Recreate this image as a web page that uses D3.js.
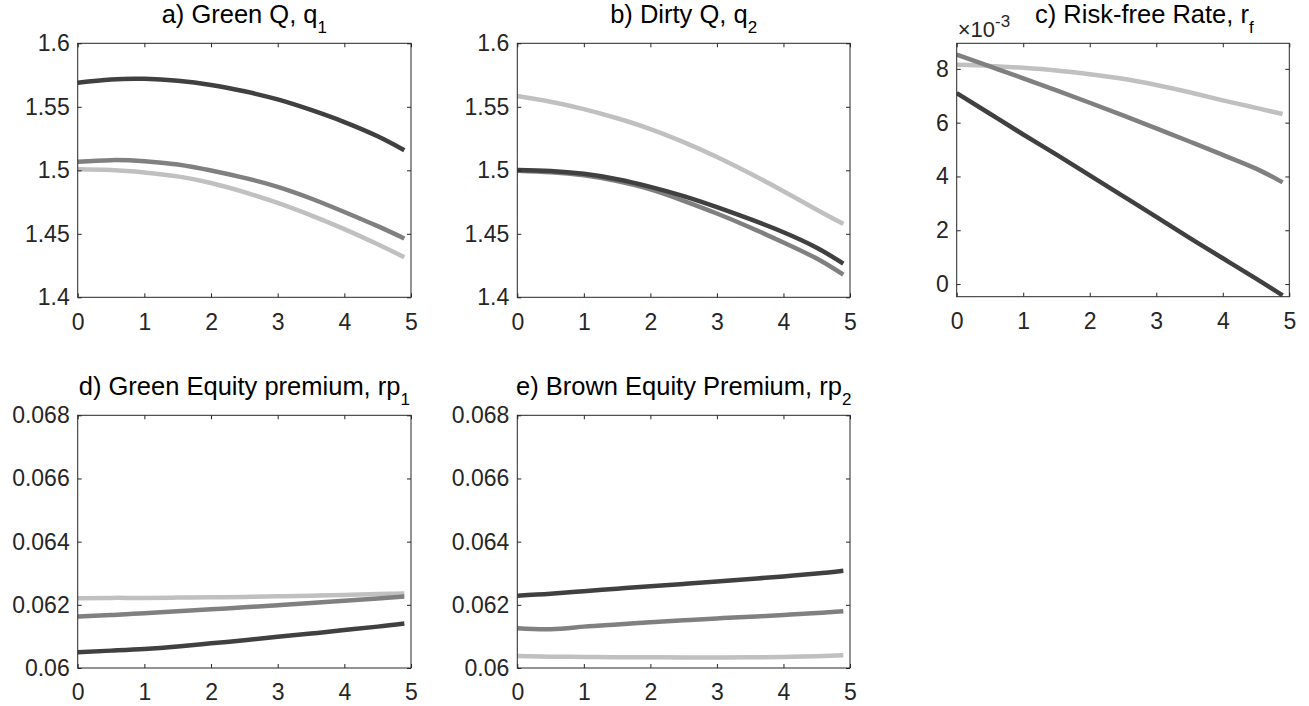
<!DOCTYPE html>
<html><head><meta charset="utf-8">
<script src="https://cdn.jsdelivr.net/npm/d3@7"></script>
<style>
body{margin:0;background:#fff;}
svg{display:block;}
</style></head>
<body>
<svg id="chart" width="1309" height="706"></svg>
<script>
// ---------- data ----------
const xs = [0, 0.5, 1, 1.5, 2, 2.5, 3, 3.5, 4, 4.5, 4.9];
const xTicks = [0, 1, 2, 3, 4, 5];

// a) Green Q, q1
const qGreenDark   = [1.5690, 1.5715, 1.5720, 1.5705, 1.5672, 1.5622, 1.5558, 1.5475, 1.5380, 1.5268, 1.5158];
const qGreenMedium = [1.5068, 1.5080, 1.5072, 1.5045, 1.4998, 1.4940, 1.4870, 1.4778, 1.4672, 1.4560, 1.4463];
const qGreenLight  = [1.5008, 1.5002, 1.4983, 1.4952, 1.4900, 1.4828, 1.4743, 1.4645, 1.4537, 1.4418, 1.4316];
// b) Dirty Q, q2
const qDirtyDark   = [1.5003, 1.4995, 1.4972, 1.4930, 1.4870, 1.4797, 1.4710, 1.4615, 1.4512, 1.4390, 1.4265];
const qDirtyMedium = [1.4997, 1.4985, 1.4960, 1.4915, 1.4850, 1.4760, 1.4660, 1.4550, 1.4432, 1.4305, 1.4178];
const qDirtyLight  = [1.5585, 1.5540, 1.5482, 1.5410, 1.5325, 1.5222, 1.5105, 1.4975, 1.4835, 1.4690, 1.4578];
// c) Risk-free rate (x 1e-3)
const rfDark   = [7.10, 6.33, 5.56, 4.81, 4.04, 3.27, 2.50, 1.72, 0.96, 0.20, -0.42];
const rfMedium = [8.53, 8.09, 7.65, 7.20, 6.74, 6.27, 5.79, 5.30, 4.80, 4.29, 3.78];
const rfLight  = [8.15, 8.11, 8.04, 7.94, 7.80, 7.63, 7.40, 7.13, 6.83, 6.55, 6.32];
// d) Green equity premium, rp1
const rpGreenDark   = [0.06050, 0.06055, 0.06060, 0.06068, 0.06078, 0.06088, 0.06099, 0.06109, 0.06120, 0.06131, 0.06141];
const rpGreenMedium = [0.06163, 0.06168, 0.06173, 0.06180, 0.06186, 0.06192, 0.06199, 0.06206, 0.06213, 0.06220, 0.06226];
const rpGreenLight  = [0.06221, 0.06222, 0.06222, 0.06223, 0.06224, 0.06225, 0.06227, 0.06229, 0.06231, 0.06234, 0.06236];
// e) Brown equity premium, rp2
const rpBrownDark   = [0.06229, 0.06235, 0.06243, 0.06251, 0.06259, 0.06266, 0.06274, 0.06282, 0.06290, 0.06299, 0.06308];
const rpBrownMedium = [0.06126, 0.06123, 0.06131, 0.06138, 0.06145, 0.06151, 0.06157, 0.06162, 0.06168, 0.06174, 0.06180];
const rpBrownLight  = [0.06038, 0.06036, 0.06035, 0.06034, 0.06034, 0.06033, 0.06033, 0.06034, 0.06035, 0.06037, 0.06040];

const qTicks = [1.4, 1.45, 1.5, 1.55, 1.6];
const qTickLabels = ["1.4", "1.45", "1.5", "1.55", "1.6"];
const rfTicks = [0, 2, 4, 6, 8];
const rfTickLabels = ["0", "2", "4", "6", "8"];
const rpTicks = [0.060, 0.062, 0.064, 0.066, 0.068];
const rpTickLabels = ["0.06", "0.062", "0.064", "0.066", "0.068"];

const seriesColors = ["#c0c0c0", "#808080", "#404040"]; // light, medium, dark

// ---------- layout ----------
const panels = [
  {left: 77.7, top: 43.3, w: 333.3, h: 254, ydom: [1.4, 1.6], yt: qTicks, yl: qTickLabels,
   title: "a) Green Q, q", sub: "1", series: [qGreenLight, qGreenMedium, qGreenDark]},
  {left: 517.3, top: 43.3, w: 332.7, h: 254, ydom: [1.4, 1.6], yt: qTicks, yl: qTickLabels,
   title: "b) Dirty Q, q", sub: "2", series: [qDirtyLight, qDirtyMedium, qDirtyDark]},
  {left: 956.7, top: 43.3, w: 332.6, h: 253.4, ydom: [-0.47, 8.95], yt: rfTicks, yl: rfTickLabels,
   title: "c) Risk-free Rate, r", sub: "f", series: [rfLight, rfMedium, rfDark], expo: true, titleX: 1035},
  {left: 77.7, top: 415.3, w: 333.3, h: 252.7, ydom: [0.060, 0.068], yt: rpTicks, yl: rpTickLabels,
   title: "d) Green Equity premium, rp", sub: "1", series: [rpGreenLight, rpGreenMedium, rpGreenDark]},
  {left: 517.3, top: 415.3, w: 332.7, h: 252.7, ydom: [0.060, 0.068], yt: rpTicks, yl: rpTickLabels,
   title: "e) Brown Equity Premium, rp", sub: "2", series: [rpBrownLight, rpBrownMedium, rpBrownDark]}
];

const svg = d3.select("#chart");
const FONT = "'Liberation Sans', Arial, Helvetica, sans-serif";
const axisColor = "#262626";
const TICK_FS = 23;
const TITLE_FS = 25.5;

panels.forEach((p, pi) => {
  const g = svg.append("g").attr("transform", `translate(${p.left},${p.top})`);
  const x = d3.scaleLinear().domain([0, 5]).range([0, p.w]);
  const y = d3.scaleLinear().domain(p.ydom).range([p.h, 0]);

  // lines (clipped to axes)
  const clipId = "clip" + pi;
  g.append("clipPath").attr("id", clipId).append("rect")
    .attr("x", 0).attr("y", -3).attr("width", p.w).attr("height", p.h + 3);
  const line = d3.line().x((d, i) => x(xs[i])).y(d => y(d)).curve(d3.curveNatural);
  p.series.forEach((s, i) => {
    g.append("path").datum(s).attr("d", line)
      .attr("fill", "none").attr("stroke", seriesColors[i])
      .attr("stroke-width", 4.5).attr("clip-path", `url(#${clipId})`);
  });

  const styleAxis = sel => {
    sel.select(".domain").remove();
    sel.selectAll("line").attr("stroke", axisColor);
    sel.selectAll("text").attr("fill", axisColor).attr("font-size", TICK_FS).attr("font-family", FONT);
  };

  // bottom axis
  g.append("g").attr("transform", `translate(0,${p.h})`)
    .call(d3.axisBottom(x).tickValues(xTicks).tickFormat(d3.format("d")).tickSizeInner(-4).tickSizeOuter(0).tickPadding(16))
    .call(styleAxis);
  // top axis (ticks only)
  g.append("g")
    .call(d3.axisTop(x).tickValues(xTicks).tickFormat("").tickSizeInner(-4).tickSizeOuter(0))
    .call(styleAxis);
  // left axis
  g.append("g")
    .call(d3.axisLeft(y).tickValues(p.yt).tickFormat((d, i) => p.yl[i]).tickSizeInner(-4).tickSizeOuter(0).tickPadding(8))
    .call(styleAxis);
  // right axis (ticks only)
  g.append("g").attr("transform", `translate(${p.w},0)`)
    .call(d3.axisRight(y).tickValues(p.yt).tickFormat("").tickSizeInner(-4).tickSizeOuter(0))
    .call(styleAxis);

  // box
  g.append("rect").attr("x", 0).attr("y", 0).attr("width", p.w).attr("height", p.h)
    .attr("fill", "none").attr("stroke", axisColor).attr("stroke-width", 1);

  // title
  const t = g.append("text")
    .attr("font-family", FONT).attr("font-size", TITLE_FS).attr("fill", "#000")
    .attr("y", -20);
  if (p.titleX) {
    t.attr("x", p.titleX - p.left).attr("text-anchor", "start");
  } else {
    t.attr("x", p.w / 2).attr("text-anchor", "middle");
  }
  t.append("tspan").text(p.title);
  t.append("tspan").attr("font-size", 17).attr("dy", 10).text(p.sub);

  // exponent label
  if (p.expo) {
    const e = g.append("text").attr("font-family", FONT).attr("fill", axisColor)
      .attr("x", 1).attr("y", -6.6).attr("font-size", 22);
    e.append("tspan").text("\u00D7");
    e.append("tspan").text("10");
    e.append("tspan").attr("font-size", 17).attr("dy", -10).text("-3");
  }
});
</script>
</body></html>
